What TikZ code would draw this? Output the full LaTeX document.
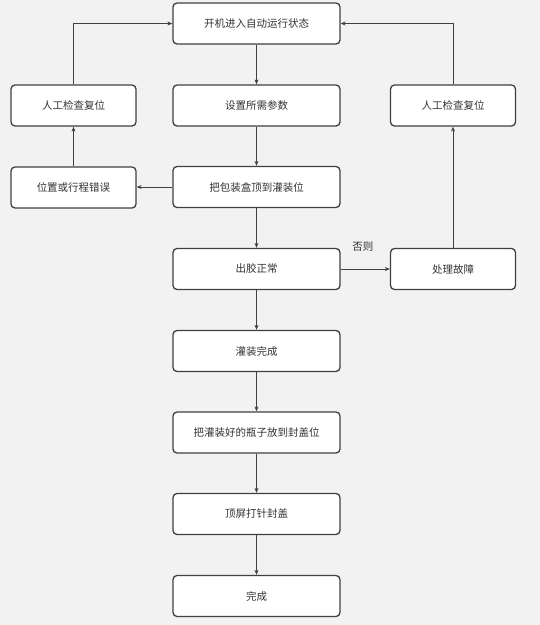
\documentclass[tikz,border=0pt]{standalone}
\usepackage{fontspec}
\setmainfont{Noto Sans CJK SC}
\usetikzlibrary{arrows.meta}
\definecolor{bg}{HTML}{F2F2F2}
\definecolor{edge}{HTML}{404040}
\definecolor{txt}{HTML}{333333}
\begin{document}
\begin{tikzpicture}[x=1pt,y=-1pt,
  box/.style={draw=edge,line width=1.3pt,rounded corners=4pt,fill=white,
    minimum height=41pt,inner sep=0pt,text=txt,font=\fontsize{10.5}{12}\selectfont},
  wide/.style={box,minimum width=167pt},
  narrow/.style={box,minimum width=125pt},
  conn/.style={draw=edge,line width=0.8pt,-{Stealth[length=5pt,width=4pt]}},
  lbl/.style={text=txt,font=\fontsize{10.5}{12}\selectfont}]
\fill[bg] (0,0) rectangle (540,625);
\useasboundingbox (0,0) rectangle (540,625);
\node[wide] (start) at (256.5,23.5) {开机进入自动运行状态};
\node[wide] (set) at (256.5,105.5) {设置所需参数};
\node[narrow] (lchk) at (73.5,105.5) {人工检查复位};
\node[narrow] (rchk) at (453,105.5) {人工检查复位};
\node[narrow] (err) at (73.5,187.5) {位置或行程错误};
\node[wide] (push) at (256.5,187) {把包装盒顶到灌装位};
\node[wide] (glue) at (256.5,269) {出胶正常};
\node[narrow] (fix) at (453,269) {处理故障};
\node[wide] (fill) at (256.5,351) {灌装完成};
\node[wide] (move) at (256.5,432.5) {把灌装好的瓶子放到封盖位};
\node[wide] (cap) at (256.5,514) {顶屏打针封盖};
\node[wide] (done) at (256.5,596) {完成};
\draw[conn] (start) -- (set);
\draw[conn] (set) -- (push);
\draw[conn] (push.west) -- (err.east |- push.west);
\draw[conn] (err) -- (lchk);
\draw[conn] (lchk.north) |- (start.west);
\draw[conn] (push) -- (glue);
\draw[conn] (glue.east) -- node[lbl,above=14pt,pos=0.45] {否则} (fix.west |- glue.east);
\draw[conn] (fix) -- (rchk);
\draw[conn] (rchk.north) |- (start.east);
\draw[conn] (glue) -- (fill);
\draw[conn] (fill) -- (move);
\draw[conn] (move) -- (cap);
\draw[conn] (cap) -- (done);
\end{tikzpicture}
\end{document}
